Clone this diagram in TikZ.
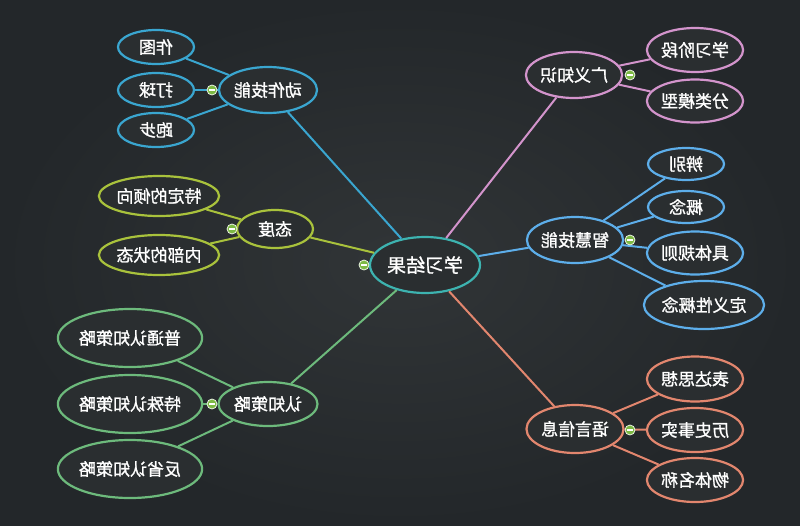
\documentclass[tikz,border=0pt]{standalone}
\usepackage{fontspec}
\newfontfamily\cjk[FakeBold=1.2]{Noto Sans CJK SC}
\usetikzlibrary{shapes.geometric}
\definecolor{bgc}{HTML}{2A2E30}
\definecolor{bgin}{HTML}{313537}
\definecolor{bgout}{HTML}{23272A}
\definecolor{cteal}{HTML}{3DB3B0}
\definecolor{cblue}{HTML}{3AA6D0}
\definecolor{cyg}{HTML}{A9C23C}
\definecolor{cgreen}{HTML}{6DBA7C}
\definecolor{cpink}{HTML}{D394CC}
\definecolor{clblue}{HTML}{5DAEEA}
\definecolor{csalmon}{HTML}{E2866E}
\definecolor{cbtn}{HTML}{7DB943}
\tikzset{
  mnode/.style={ellipse, draw, line width=2.2pt, fill=bgc, text=white, inner sep=0pt, font=\cjk\fontsize{17}{17}\selectfont},
  link/.style={line width=2pt},
  btn/.style={circle, fill=cbtn, draw=white!85!cbtn, line width=0.8pt, minimum size=10pt, inner sep=0pt,
    path picture={\draw[white, line width=1.3pt] ([xshift=-2.6pt]path picture bounding box.center) -- ([xshift=2.6pt]path picture bounding box.center);}}
}
\begin{document}
\begin{tikzpicture}[x=1pt,y=-1pt]
\useasboundingbox (0,0) rectangle (800,525);
\shade[inner color=bgin, outer color=bgout] (0,0) rectangle (800,525);
% center
\node[mnode, draw=cteal, minimum width=110pt, minimum height=56pt, font=\cjk\fontsize{19}{19}\selectfont] (c) at (425,265) {\reflectbox{学习结果}};
% branches
\node[mnode, draw=cblue, minimum width=98pt, minimum height=46pt] (dz) at (268,90) {\reflectbox{动作技能}};
\node[mnode, draw=cyg, minimum width=76pt, minimum height=38pt] (td) at (275,229) {\reflectbox{态度}};
\node[mnode, draw=cgreen, minimum width=99pt, minimum height=44pt] (rz) at (268,404) {\reflectbox{认知策略}};
\node[mnode, draw=cpink, minimum width=96pt, minimum height=46pt] (gy) at (574,75) {\reflectbox{广义知识}};
\node[mnode, draw=clblue, minimum width=96pt, minimum height=46pt] (zh) at (575,240) {\reflectbox{智慧技能}};
\node[mnode, draw=csalmon, minimum width=97pt, minimum height=48pt] (yy) at (575,429) {\reflectbox{语言信息}};
% children
\node[mnode, draw=cblue, minimum width=76pt, minimum height=34pt] (dz1) at (156,47) {\reflectbox{作图}};
\node[mnode, draw=cblue, minimum width=76pt, minimum height=34pt] (dz2) at (156,90) {\reflectbox{打球}};
\node[mnode, draw=cblue, minimum width=76pt, minimum height=34pt] (dz3) at (156,130) {\reflectbox{跑步}};
\node[mnode, draw=cyg, minimum width=112pt, minimum height=40pt] (td1) at (159,196) {\reflectbox{特定的倾向}};
\node[mnode, draw=cyg, minimum width=112pt, minimum height=40pt] (td2) at (159,255) {\reflectbox{内部的状态}};
\node[mnode, draw=cgreen, minimum width=129pt, minimum height=58pt] (rz1) at (130,338) {\reflectbox{普通认知策略}};
\node[mnode, draw=cgreen, minimum width=129pt, minimum height=58pt] (rz2) at (130,404) {\reflectbox{特殊认知策略}};
\node[mnode, draw=cgreen, minimum width=129pt, minimum height=58pt] (rz3) at (130,469) {\reflectbox{反省认知策略}};
\node[mnode, draw=cpink, minimum width=94pt, minimum height=44pt] (gy1) at (695,50) {\reflectbox{学习阶段}};
\node[mnode, draw=cpink, minimum width=94pt, minimum height=43pt] (gy2) at (695,101) {\reflectbox{分类模型}};
\node[mnode, draw=clblue, minimum width=76pt, minimum height=32pt] (zh1) at (686,164) {\reflectbox{辨别}};
\node[mnode, draw=clblue, minimum width=76pt, minimum height=32pt] (zh2) at (686,207) {\reflectbox{概念}};
\node[mnode, draw=clblue, minimum width=94pt, minimum height=43pt] (zh3) at (695,253) {\reflectbox{具体规则}};
\node[mnode, draw=clblue, minimum width=112pt, minimum height=48pt] (zh4) at (704,305) {\reflectbox{定义性概念}};
\node[mnode, draw=csalmon, minimum width=94pt, minimum height=45pt] (yy1) at (695,379) {\reflectbox{表达思想}};
\node[mnode, draw=csalmon, minimum width=94pt, minimum height=44pt] (yy2) at (695,430) {\reflectbox{历史事实}};
\node[mnode, draw=csalmon, minimum width=94pt, minimum height=44pt] (yy3) at (695,480) {\reflectbox{物体名称}};
% links
\draw[link, cblue] (c) -- (dz);
\draw[link, cyg] (c) -- (td);
\draw[link, cgreen] (c) -- (rz);
\draw[link, cpink] (c) -- (gy);
\draw[link, clblue] (c) -- (zh);
\draw[link, csalmon] (c) -- (yy);
\draw[link, cblue] (dz) -- (dz1);
\draw[link, cblue] (dz) -- (dz2);
\draw[link, cblue] (dz) -- (dz3);
\draw[link, cyg] (td) -- (td1);
\draw[link, cyg] (td) -- (td2);
\draw[link, cgreen] (rz) -- (rz1);
\draw[link, cgreen] (rz) -- (rz2);
\draw[link, cgreen] (rz) -- (rz3);
\draw[link, cpink] (gy) -- (gy1);
\draw[link, cpink] (gy) -- (gy2);
\draw[link, clblue] (zh) -- (zh1);
\draw[link, clblue] (zh) -- (zh2);
\draw[link, clblue] (zh) -- (zh3);
\draw[link, clblue] (zh) -- (zh4);
\draw[link, csalmon] (yy) -- (yy1);
\draw[link, csalmon] (yy) -- (yy2);
\draw[link, csalmon] (yy) -- (yy3);
% collapse buttons
\node[btn] (b0) at (364,265) {};
\node[btn] (b1) at (212,90) {};
\node[btn] (b2) at (232,229) {};
\node[btn] (b3) at (212,404) {};
\node[btn] (b4) at (630,75) {};
\node[btn] (b5) at (630,240) {};
\node[btn] (b6) at (630,430) {};
\end{tikzpicture}
\end{document}
